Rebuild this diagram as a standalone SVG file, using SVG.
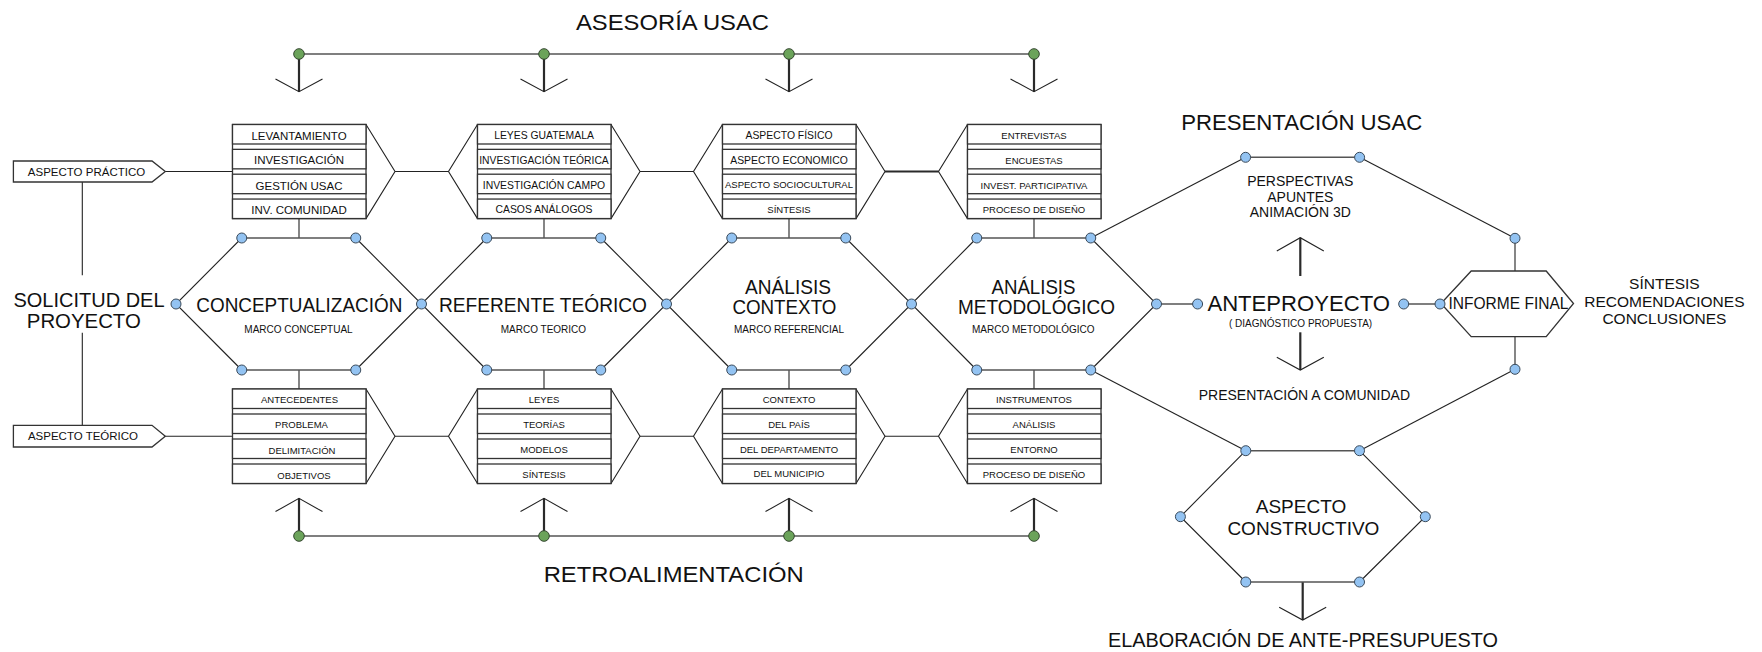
<svg xmlns="http://www.w3.org/2000/svg" width="1762" height="652" viewBox="0 0 1762 652">
<style>
text{font-family:"Liberation Sans",Arial,sans-serif;fill:#111;text-anchor:middle}
.thin{stroke:#222;stroke-width:1.1;fill:none}
.gray{stroke:#555;stroke-width:1.6;fill:none}
.stem{stroke:#2a2a2a;stroke-width:2.2;fill:none}
.box{stroke:#333;stroke-width:1.3;fill:#fff}
.frame{stroke:#333;stroke-width:1.3;fill:none}
.db{fill:#93c3f2;stroke:#3a4a5a;stroke-width:1}
.dg{fill:#6ba35a;stroke:#34472f;stroke-width:1}
.t115{font-size:11.5px}
.t104{font-size:10.4px}
.t95{font-size:9.5px}
.sub{font-size:10px}
.big{font-size:21px}
</style>
<defs>
<circle id="b" r="5" class="db"/>
<circle id="g" r="5.3" class="dg"/>
<polyline id="chevD" points="-23.5,-12.7 0,0 23.5,-12.7" class="thin"/>
<polyline id="chevU" points="-23.5,13.3 0,0 23.5,13.3" class="thin"/>
</defs>

<g id="connectors">
<!-- asesoria line -->
<line x1="299" y1="54" x2="1034" y2="54" class="gray"/>
<line x1="299" y1="54" x2="299" y2="91.7" class="stem"/>
<line x1="544" y1="54" x2="544" y2="91.7" class="stem"/>
<line x1="789" y1="54" x2="789" y2="91.7" class="stem"/>
<line x1="1034" y1="54" x2="1034" y2="91.7" class="stem"/>
<use href="#chevD" x="299" y="91.7"/>
<use href="#chevD" x="544" y="91.7"/>
<use href="#chevD" x="789" y="91.7"/>
<use href="#chevD" x="1034" y="91.7"/>
<!-- retroalimentacion line -->
<line x1="299" y1="536" x2="1034" y2="536" class="gray"/>
<line x1="299" y1="536" x2="299" y2="498.3" class="stem"/>
<line x1="544" y1="536" x2="544" y2="498.3" class="stem"/>
<line x1="789" y1="536" x2="789" y2="498.3" class="stem"/>
<line x1="1034" y1="536" x2="1034" y2="498.3" class="stem"/>
<use href="#chevU" x="299" y="498.3"/>
<use href="#chevU" x="544" y="498.3"/>
<use href="#chevU" x="789" y="498.3"/>
<use href="#chevU" x="1034" y="498.3"/>
<!-- tags to stacks -->
<line x1="165.3" y1="171.5" x2="232.5" y2="171.5" class="thin"/>
<line x1="165.3" y1="436.2" x2="232.5" y2="436.2" class="thin"/>
<line x1="82.3" y1="182" x2="82.3" y2="275.3" class="thin"/>
<line x1="82.3" y1="332.7" x2="82.3" y2="425.3" class="thin"/>
<!-- between stacks top -->
<line x1="395" y1="171.5" x2="448.5" y2="171.5" class="thin"/>
<line x1="640" y1="171.5" x2="693.5" y2="171.5" class="thin"/>
<line x1="885" y1="171.5" x2="938.5" y2="171.5" class="stem"/>
<!-- between stacks bottom -->
<line x1="395" y1="436.2" x2="448.5" y2="436.2" class="thin"/>
<line x1="640" y1="436.2" x2="693.5" y2="436.2" class="thin"/>
<line x1="885" y1="436.2" x2="938.5" y2="436.2" class="thin"/>
<!-- stacks to hexagons -->
<line x1="299" y1="218.6" x2="299" y2="238" class="thin"/>
<line x1="544" y1="218.6" x2="544" y2="238" class="thin"/>
<line x1="789" y1="218.6" x2="789" y2="238" class="thin"/>
<line x1="1034" y1="218.6" x2="1034" y2="238" class="thin"/>
<line x1="299" y1="370" x2="299" y2="389" class="thin"/>
<line x1="544" y1="370" x2="544" y2="389" class="thin"/>
<line x1="789" y1="370" x2="789" y2="389" class="thin"/>
<line x1="1034" y1="370" x2="1034" y2="389" class="thin"/>
<!-- to anteproyecto and informe -->
<line x1="1156.5" y1="304" x2="1197.6" y2="304" class="gray"/>
<line x1="1403.7" y1="304" x2="1440" y2="304" class="gray"/>
<!-- octagon -->
<line x1="1090.75" y1="238" x2="1245.6" y2="157.3" class="thin"/>
<line x1="1245.6" y1="157.3" x2="1359.6" y2="157.3" class="gray"/>
<line x1="1359.6" y1="157.3" x2="1515" y2="238.3" class="thin"/>
<line x1="1515" y1="238.3" x2="1515" y2="271" class="thin"/>
<line x1="1515" y1="336.7" x2="1515" y2="369.3" class="thin"/>
<line x1="1515" y1="369.3" x2="1359.5" y2="450.7" class="thin"/>
<line x1="1245.8" y1="450.7" x2="1090.75" y2="370" class="thin"/>
<!-- anteproyecto arrows -->
<line x1="1300.3" y1="276" x2="1300.3" y2="237.7" class="stem"/>
<use href="#chevU" x="1300.3" y="237.7"/>
<line x1="1300.3" y1="332.3" x2="1300.3" y2="370" class="stem"/>
<use href="#chevD" x="1300.3" y="370"/>
<!-- constructivo arrow -->
<line x1="1302.7" y1="582" x2="1302.7" y2="620" class="stem"/>
<use href="#chevD" x="1302.7" y="620"/>
</g>

<g id="title-asesoria"><text x="672.5" y="30" font-size="22.3" textLength="193" lengthAdjust="spacingAndGlyphs">ASESORÍA USAC</text></g>
<g id="title-retro"><text x="673.7" y="581.7" font-size="22" textLength="260" lengthAdjust="spacingAndGlyphs">RETROALIMENTACIÓN</text></g>
<g id="green-dots">
<use href="#g" x="299" y="54"/><use href="#g" x="544" y="54"/><use href="#g" x="789" y="54"/><use href="#g" x="1034" y="54"/>
<use href="#g" x="299" y="536"/><use href="#g" x="544" y="536"/><use href="#g" x="789" y="536"/><use href="#g" x="1034" y="536"/>
</g>

<g id="solicitud">
<text x="89" y="306.7" class="big" textLength="151" lengthAdjust="spacingAndGlyphs">SOLICITUD DEL</text>
<text x="83.8" y="327.5" class="big" textLength="114" lengthAdjust="spacingAndGlyphs">PROYECTO</text>
</g>
<g id="aspecto-practico">
<polygon points="13.4,161 152,161 165.3,171.5 152,182 13.4,182" class="box"/>
<text x="86.5" y="175.6" class="t115">ASPECTO PRÁCTICO</text>
</g>
<g id="aspecto-teorico">
<polygon points="13.4,425.3 152,425.3 165.3,436.2 152,447 13.4,447" class="box"/>
<text x="83" y="440.3" class="t115">ASPECTO TEÓRICO</text>
</g>

<!-- top stacks -->
<g id="stack-top-1">
<polyline points="366,124.5 395,171.5 366,218.6" class="thin"/>
<rect x="232.5" y="124.5" width="133.5" height="94.1" class="frame"/>
<rect x="232.5" y="124.5" width="133.5" height="19.5" class="box"/>
<rect x="232.5" y="149.35" width="133.5" height="19.5" class="box"/>
<rect x="232.5" y="174.2" width="133.5" height="19.5" class="box"/>
<rect x="232.5" y="199.05" width="133.5" height="19.5" class="box"/>
<text x="299" y="139.8" class="t115">LEVANTAMIENTO</text>
<text x="299" y="164.3" class="t115">INVESTIGACIÓN</text>
<text x="299" y="190.2" class="t115">GESTIÓN USAC</text>
<text x="299" y="214.2" class="t115">INV. COMUNIDAD</text>
</g>
<g id="stack-top-2">
<polyline points="477.5,124.5 448.5,171.5 477.5,218.6" class="thin"/>
<polyline points="611,124.5 640,171.5 611,218.6" class="thin"/>
<rect x="477.5" y="124.5" width="133.5" height="94.1" class="frame"/>
<rect x="477.5" y="124.5" width="133.5" height="19.5" class="box"/>
<rect x="477.5" y="149.35" width="133.5" height="19.5" class="box"/>
<rect x="477.5" y="174.2" width="133.5" height="19.5" class="box"/>
<rect x="477.5" y="199.05" width="133.5" height="19.5" class="box"/>
<text x="544" y="138.8" class="t104">LEYES GUATEMALA</text>
<text x="544" y="163.6" class="t104" textLength="129.5" lengthAdjust="spacingAndGlyphs">INVESTIGACIÓN TEÓRICA</text>
<text x="544" y="188.5" class="t104">INVESTIGACIÓN CAMPO</text>
<text x="544" y="213.3" class="t104">CASOS ANÁLOGOS</text>
</g>
<g id="stack-top-3">
<polyline points="722.5,124.5 693.5,171.5 722.5,218.6" class="thin"/>
<polyline points="856,124.5 885,171.5 856,218.6" class="thin"/>
<rect x="722.5" y="124.5" width="133.5" height="94.1" class="frame"/>
<rect x="722.5" y="124.5" width="133.5" height="19.5" class="box"/>
<rect x="722.5" y="149.35" width="133.5" height="19.5" class="box"/>
<rect x="722.5" y="174.2" width="133.5" height="19.5" class="box"/>
<rect x="722.5" y="199.05" width="133.5" height="19.5" class="box"/>
<text x="789" y="138.8" class="t104">ASPECTO FÍSICO</text>
<text x="789" y="163.6" class="t104">ASPECTO ECONOMICO</text>
<text x="789" y="188.2" class="t95" textLength="128" lengthAdjust="spacingAndGlyphs">ASPECTO SOCIOCULTURAL</text>
<text x="789" y="212.8" class="t95">SÍNTESIS</text>
</g>
<g id="stack-top-4">
<polyline points="967.5,124.5 938.5,171.5 967.5,218.6" class="thin"/>
<rect x="967.5" y="124.5" width="133.5" height="94.1" class="frame"/>
<rect x="967.5" y="124.5" width="133.5" height="19.5" class="box"/>
<rect x="967.5" y="149.35" width="133.5" height="19.5" class="box"/>
<rect x="967.5" y="174.2" width="133.5" height="19.5" class="box"/>
<rect x="967.5" y="199.05" width="133.5" height="19.5" class="box"/>
<text x="1034" y="138.8" class="t95">ENTREVISTAS</text>
<text x="1034" y="163.6" class="t95">ENCUESTAS</text>
<text x="1034" y="188.5" class="t95">INVEST. PARTICIPATIVA</text>
<text x="1034" y="213.3" class="t95">PROCESO DE DISEÑO</text>
</g>

<!-- bottom stacks -->
<g id="stack-bot-1">
<polyline points="366,389 395,436.2 366,483.5" class="thin"/>
<rect x="232.5" y="389" width="133.5" height="94.5" class="frame"/>
<rect x="232.5" y="389" width="133.5" height="19.5" class="box"/>
<rect x="232.5" y="414" width="133.5" height="19.5" class="box"/>
<rect x="232.5" y="439" width="133.5" height="19.5" class="box"/>
<rect x="232.5" y="464" width="133.5" height="19.5" class="box"/>
<text x="299.5" y="403.3" class="t95">ANTECEDENTES</text>
<text x="301.5" y="428.3" class="t95">PROBLEMA</text>
<text x="302" y="454" class="t95">DELIMITACIÓN</text>
<text x="304" y="479" class="t95">OBJETIVOS</text>
</g>
<g id="stack-bot-2">
<polyline points="477.5,389 448.5,436.2 477.5,483.5" class="thin"/>
<polyline points="611,389 640,436.2 611,483.5" class="thin"/>
<rect x="477.5" y="389" width="133.5" height="94.5" class="frame"/>
<rect x="477.5" y="389" width="133.5" height="19.5" class="box"/>
<rect x="477.5" y="414" width="133.5" height="19.5" class="box"/>
<rect x="477.5" y="439" width="133.5" height="19.5" class="box"/>
<rect x="477.5" y="464" width="133.5" height="19.5" class="box"/>
<text x="544" y="402.8" class="t95">LEYES</text>
<text x="544" y="428.3" class="t95">TEORÍAS</text>
<text x="544" y="453.3" class="t95">MODELOS</text>
<text x="544" y="477.5" class="t95">SÍNTESIS</text>
</g>
<g id="stack-bot-3">
<polyline points="722.5,389 693.5,436.2 722.5,483.5" class="thin"/>
<polyline points="856,389 885,436.2 856,483.5" class="thin"/>
<rect x="722.5" y="389" width="133.5" height="94.5" class="frame"/>
<rect x="722.5" y="389" width="133.5" height="19.5" class="box"/>
<rect x="722.5" y="414" width="133.5" height="19.5" class="box"/>
<rect x="722.5" y="439" width="133.5" height="19.5" class="box"/>
<rect x="722.5" y="464" width="133.5" height="19.5" class="box"/>
<text x="789" y="402.8" class="t95">CONTEXTO</text>
<text x="789" y="428.3" class="t95">DEL PAÍS</text>
<text x="789" y="452.5" class="t95">DEL DEPARTAMENTO</text>
<text x="789" y="477" class="t95">DEL MUNICIPIO</text>
</g>
<g id="stack-bot-4">
<polyline points="967.5,389 938.5,436.2 967.5,483.5" class="thin"/>
<rect x="967.5" y="389" width="133.5" height="94.5" class="frame"/>
<rect x="967.5" y="389" width="133.5" height="19.5" class="box"/>
<rect x="967.5" y="414" width="133.5" height="19.5" class="box"/>
<rect x="967.5" y="439" width="133.5" height="19.5" class="box"/>
<rect x="967.5" y="464" width="133.5" height="19.5" class="box"/>
<text x="1034" y="402.8" class="t95">INSTRUMENTOS</text>
<text x="1034" y="427.8" class="t95">ANÁLISIS</text>
<text x="1034" y="453.3" class="t95">ENTORNO</text>
<text x="1034" y="478.3" class="t95">PROCESO DE DISEÑO</text>
</g>

<!-- hexagons -->
<g id="hex-conceptualizacion">
<polyline points="241.75,238 176,304 241.75,370" class="thin"/>
<polyline points="355.75,238 421.5,304 355.75,370" class="thin"/>
<line x1="241.75" y1="238" x2="355.75" y2="238" class="gray"/>
<line x1="241.75" y1="370" x2="355.75" y2="370" class="gray"/>
<text x="299.3" y="311.7" class="big" textLength="206" lengthAdjust="spacingAndGlyphs">CONCEPTUALIZACIÓN</text>
<text x="298.5" y="333.3" class="sub">MARCO CONCEPTUAL</text>
</g>
<g id="hex-referente">
<polyline points="486.75,238 421.5,304 486.75,370" class="thin"/>
<polyline points="600.75,238 666.5,304 600.75,370" class="thin"/>
<line x1="486.75" y1="238" x2="600.75" y2="238" class="gray"/>
<line x1="486.75" y1="370" x2="600.75" y2="370" class="gray"/>
<text x="543" y="311.7" class="big" textLength="208" lengthAdjust="spacingAndGlyphs">REFERENTE TEÓRICO</text>
<text x="543.4" y="333.3" class="sub">MARCO TEORICO</text>
</g>
<g id="hex-contexto">
<polyline points="731.75,238 666.5,304 731.75,370" class="thin"/>
<polyline points="845.75,238 911.5,304 845.75,370" class="thin"/>
<line x1="731.75" y1="238" x2="845.75" y2="238" class="gray"/>
<line x1="731.75" y1="370" x2="845.75" y2="370" class="gray"/>
<text x="788" y="293.8" class="big" textLength="86" lengthAdjust="spacingAndGlyphs">ANÁLISIS</text>
<text x="784.4" y="313.5" class="big" textLength="104" lengthAdjust="spacingAndGlyphs">CONTEXTO</text>
<text x="789" y="333.3" class="sub">MARCO REFERENCIAL</text>
</g>
<g id="hex-metodologico">
<polyline points="976.75,238 911.5,304 976.75,370" class="thin"/>
<polyline points="1090.75,238 1156.5,304 1090.75,370" class="thin"/>
<line x1="976.75" y1="238" x2="1090.75" y2="238" class="gray"/>
<line x1="976.75" y1="370" x2="1090.75" y2="370" class="gray"/>
<text x="1033.5" y="293.8" class="big" textLength="84" lengthAdjust="spacingAndGlyphs">ANÁLISIS</text>
<text x="1036.5" y="313.5" class="big" textLength="157" lengthAdjust="spacingAndGlyphs">METODOLÓGICO</text>
<text x="1033.3" y="333.3" class="sub">MARCO METODOLÓGICO</text>
</g>

<g id="presentacion-usac">
<text x="1301.7" y="130" font-size="21.5" textLength="241" lengthAdjust="spacingAndGlyphs">PRESENTACIÓN USAC</text>
<text x="1300.3" y="186" font-size="14">PERSPECTIVAS</text>
<text x="1300.3" y="201.7" font-size="14">APUNTES</text>
<text x="1300.3" y="217.3" font-size="14">ANIMACIÓN 3D</text>
</g>
<g id="anteproyecto">
<text x="1298.7" y="310.7" font-size="22" textLength="182.6" lengthAdjust="spacingAndGlyphs">ANTEPROYECTO</text>
<text x="1300.6" y="326.7" font-size="10">( DIAGNÓSTICO PROPUESTA)</text>
</g>
<g id="presentacion-comunidad">
<text x="1304.4" y="400" font-size="14">PRESENTACIÓN A COMUNIDAD</text>
</g>
<g id="informe-final">
<polygon points="1441,303.5 1471.2,271 1546.2,271 1573.5,303.5 1546.2,336.7 1471.2,336.7" class="box"/>
<text x="1508.5" y="309.3" font-size="17" textLength="120" lengthAdjust="spacingAndGlyphs">INFORME FINAL</text>
</g>
<g id="sintesis">
<text x="1664.4" y="289.3" font-size="15.5">SÍNTESIS</text>
<text x="1664.4" y="306.7" font-size="15.5">RECOMENDACIONES</text>
<text x="1664.4" y="324.3" font-size="15.5">CONCLUSIONES</text>
</g>
<g id="aspecto-constructivo">
<polyline points="1245.8,450.7 1180.4,516.7 1245.8,582" class="thin"/>
<polyline points="1359.5,450.7 1425.3,516.7 1359.5,582" class="thin"/>
<line x1="1245.8" y1="450.7" x2="1359.5" y2="450.7" class="gray"/>
<line x1="1245.8" y1="582" x2="1359.5" y2="582" class="gray"/>
<text x="1301" y="512.7" font-size="19">ASPECTO</text>
<text x="1303.4" y="535" font-size="19">CONSTRUCTIVO</text>
</g>
<g id="elaboracion">
<text x="1303" y="647" font-size="20" textLength="390" lengthAdjust="spacingAndGlyphs">ELABORACIÓN DE ANTE-PRESUPUESTO</text>
</g>

<g id="blue-dots">
<use href="#b" x="176" y="304"/><use href="#b" x="421.5" y="304"/><use href="#b" x="666.5" y="304"/><use href="#b" x="911.5" y="304"/><use href="#b" x="1156.5" y="304"/>
<use href="#b" x="241.75" y="238"/><use href="#b" x="355.75" y="238"/><use href="#b" x="486.75" y="238"/><use href="#b" x="600.75" y="238"/>
<use href="#b" x="731.75" y="238"/><use href="#b" x="845.75" y="238"/><use href="#b" x="976.75" y="238"/><use href="#b" x="1090.75" y="238"/>
<use href="#b" x="241.75" y="370"/><use href="#b" x="355.75" y="370"/><use href="#b" x="486.75" y="370"/><use href="#b" x="600.75" y="370"/>
<use href="#b" x="731.75" y="370"/><use href="#b" x="845.75" y="370"/><use href="#b" x="976.75" y="370"/><use href="#b" x="1090.75" y="370"/>
<use href="#b" x="1197.6" y="304"/><use href="#b" x="1403.7" y="304"/><use href="#b" x="1440" y="304"/>
<use href="#b" x="1245.6" y="157.3"/><use href="#b" x="1359.6" y="157.3"/><use href="#b" x="1515" y="238.3"/><use href="#b" x="1515" y="369.3"/>
<use href="#b" x="1245.8" y="450.7"/><use href="#b" x="1359.5" y="450.7"/><use href="#b" x="1180.4" y="516.7"/><use href="#b" x="1425.3" y="516.7"/>
<use href="#b" x="1245.8" y="582"/><use href="#b" x="1359.5" y="582"/>
</g>
</svg>
